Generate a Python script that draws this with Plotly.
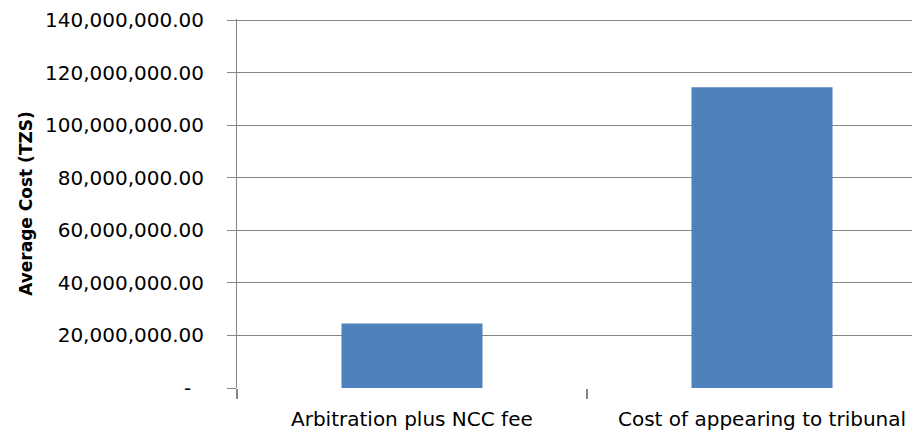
import plotly.graph_objects as go

# Average cost per route (TZS)
categories = ["Arbitration plus NCC fee", "Cost of appearing to tribunal"]
avg_cost = [24500000, 114400000]

# Y-axis ticks in accounting style: zero is shown as a dash
y_tickvals = [0, 20000000, 40000000, 60000000, 80000000, 100000000, 120000000, 140000000]
y_ticktext = ["-\u00a0\u00a0"] + [f"{v:,.2f}" for v in y_tickvals[1:]]

GRID = "#868686"
BAR = "#4F81BD"
FONT = "DejaVu Sans"

fig = go.Figure(
    go.Bar(
        x=list(range(len(categories))),
        y=avg_cost,
        marker=dict(color=BAR, line=dict(width=0)),
        width=0.403,
    )
)

fig.update_layout(
    width=912,
    height=436,
    margin=dict(l=237, r=0, t=19, b=48),
    paper_bgcolor="white",
    plot_bgcolor="white",
    showlegend=False,
    font=dict(family=FONT, color="black", size=20),
)

fig.update_xaxes(
    range=[-0.5, 1.4286],
    tickmode="array",
    tickvals=[-0.5, 0.5, 1.5],
    ticktext=["", "", ""],
    ticks="outside",
    ticklen=10,
    tickwidth=2,
    tickcolor=GRID,
    showgrid=False,
    showline=False,
    zeroline=False,
)

# Category labels centred under each bar
for i, name in enumerate(categories):
    fig.add_annotation(
        x=i, y=0, xref="x", yref="y",
        text=name, showarrow=False,
        yanchor="top", yshift=-17,
        font=dict(family=FONT, size=20, color="black"),
    )

fig.update_yaxes(
    range=[0, 140400000],
    tickmode="array",
    tickvals=y_tickvals,
    ticktext=y_ticktext,
    ticks="outside",
    ticklen=9,
    tickwidth=1,
    tickcolor=GRID,
    ticklabelstandoff=19,
    tickfont=dict(family=FONT, size=20, color="black"),
    showgrid=True,
    gridcolor=GRID,
    gridwidth=1,
    showline=True,
    linecolor=GRID,
    linewidth=1,
    zeroline=True,
    zerolinecolor="white",
    zerolinewidth=1,
    title=dict(
        text="<b>Average Cost (TZS)</b>",
        font=dict(family=FONT, size=17, color="black"),
        standoff=8,
    ),
)

fig.write_html("out.html")
